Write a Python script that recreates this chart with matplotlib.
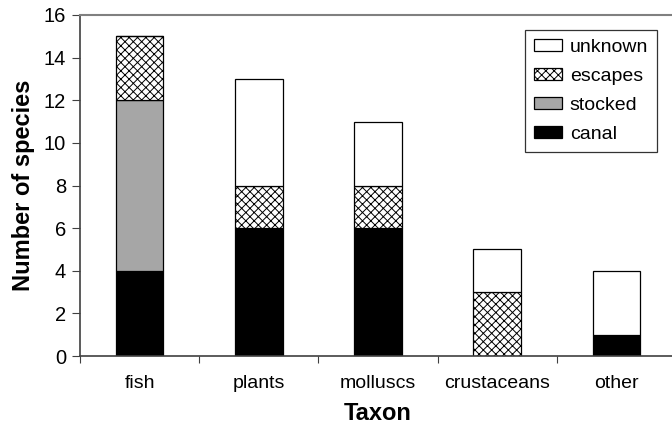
import matplotlib
matplotlib.use('Agg')
import matplotlib.pyplot as plt
import numpy as np

# data
taxa = ["fish", "plants", "molluscs", "crustaceans", "other"]
canal = [4, 6, 6, 0, 1]
stocked = [8, 0, 0, 0, 0]
escapes = [3, 2, 2, 3, 0]
unknown = [0, 5, 3, 2, 3]

plt.rcParams['font.family'] = ['Liberation Sans', 'DejaVu Sans']
plt.rcParams['hatch.linewidth'] = 0.7

fig = plt.figure(figsize=(6.72, 4.29), dpi=100)
ax = fig.add_axes([80 / 672, 73 / 429, 596 / 672, 341 / 429])

x = np.arange(len(taxa))
w = 0.4
bottom = np.zeros(len(taxa))
series = [
    ("canal", canal, dict(color='black', hatch=None)),
    ("stocked", stocked, dict(color='#a6a6a6', hatch=None)),
    ("escapes", escapes, dict(color='white', hatch='xxxx')),
    ("unknown", unknown, dict(color='white', hatch=None)),
]
handles = {}
for name, vals, st in series:
    vals = np.array(vals, dtype=float)
    h = ax.bar(x, vals, w, bottom=bottom, facecolor=st['color'],
               edgecolor='black', linewidth=0.9, hatch=st['hatch'], label=name)
    handles[name] = h
    bottom += vals

ax.set_xlim(-0.5, 4.5)
ax.set_ylim(0, 16)
ax.set_yticks(range(0, 17, 2))
ax.set_xticks(np.arange(-0.5, 4.6, 1.0))
ax.set_xticklabels([])
ax.set_xticks(x, minor=True)
ax.set_xticklabels(taxa, minor=True, fontsize=14)
ax.tick_params(axis='x', which='minor', length=0, pad=14)
ax.tick_params(axis='x', which='major', length=5, direction='out', color='#404040')
ax.tick_params(axis='y', length=6, direction='out', labelsize=14.5, color='#404040', pad=4)

ax.spines['right'].set_visible(False)
ax.spines['top'].set_color('#808080')
ax.spines['top'].set_linewidth(1.5)
ax.spines['left'].set_color('#404040')
ax.spines['bottom'].set_color('#404040')
ax.spines['left'].set_linewidth(1.2)
ax.spines['bottom'].set_linewidth(1.2)

ax.set_ylabel("Number of species", fontsize=17, fontweight='bold', labelpad=6)
ax.set_xlabel("Taxon", fontsize=17, fontweight='bold', labelpad=7)

order = ["unknown", "escapes", "stocked", "canal"]
leg = ax.legend([handles[n] for n in order], order, loc='upper right',
                fontsize=14, frameon=True,
                fancybox=False, edgecolor='black', handlelength=1.45,
                handleheight=0.55, borderpad=0.45, labelspacing=0.62,
                handletextpad=0.4, borderaxespad=0)
leg.set_bbox_to_anchor((657 / 672, 399 / 429), transform=fig.transFigure)
leg.get_frame().set_linewidth(0.9)

fig.savefig("out.png", dpi=100, facecolor='white')
